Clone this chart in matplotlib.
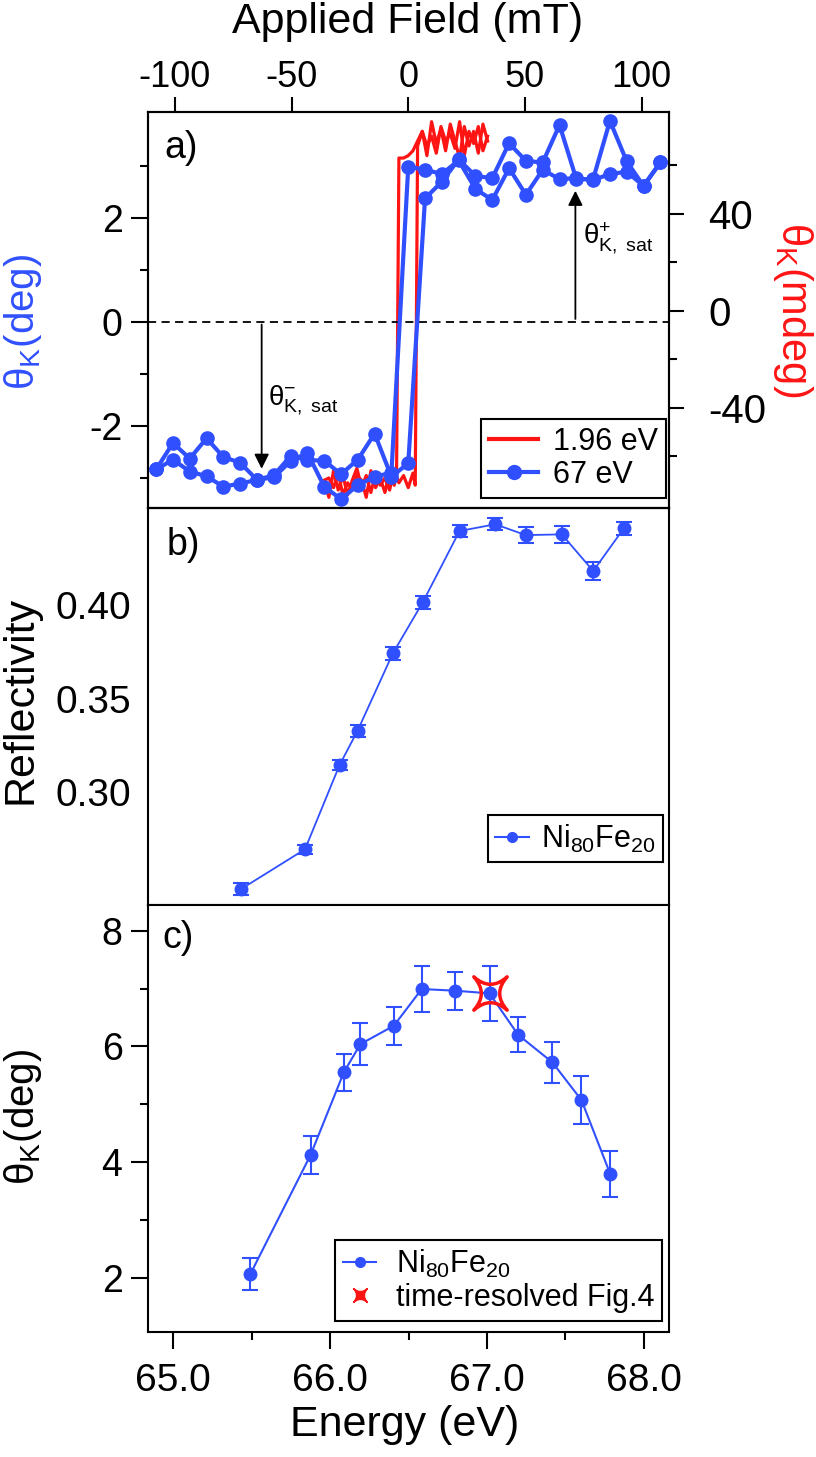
import matplotlib.pyplot as plt
from matplotlib.path import Path
from matplotlib.lines import Line2D
from matplotlib.ticker import FixedLocator

plt.rcParams['font.family'] = ['Liberation Sans', 'DejaVu Sans']
plt.rcParams['mathtext.fontset'] = 'custom'
plt.rcParams['mathtext.rm'] = 'Liberation Sans'
plt.rcParams['mathtext.it'] = 'Liberation Sans:italic'
plt.rcParams['mathtext.bf'] = 'Liberation Sans:bold'
plt.rcParams['axes.unicode_minus'] = False

BLUE = '#3050ff'
RED = '#ff1414'

# panel a: hysteresis loops, 67 eV (deg) and 1.96 eV (mdeg)
field_mT = [-108.0, -100.8, -93.6, -86.4, -79.2, -72.0, -64.8, -57.6, -50.4, -43.2,
            -36.0, -28.8, -21.6, -14.4, -7.2, 0.0, 7.2, 14.4, 21.6, 28.8,
            36.0, 43.2, 50.4, 57.6, 64.8, 72.0, 79.2, 86.4, 93.6, 100.8, 108.0]
kerr_up = [-2.84, -2.33, -2.63, -2.24, -2.60, -2.71, -3.04, -2.95, -2.58, -2.66,
           -2.67, -2.93, -2.65, -2.15, -2.98, -2.72, 2.37, 2.69, 3.12, 2.80,
           2.76, 3.43, 3.09, 3.06, 3.78, 2.74, 2.74, 3.86, 3.08, 2.61, 3.06]
kerr_down = [-2.84, -2.65, -2.88, -2.97, -3.17, -3.11, -3.04, -2.99, -2.68, -2.52,
             -3.17, -3.41, -3.14, -2.98, -2.90, 2.98, 2.92, 2.84, 3.10, 2.55,
             2.34, 2.95, 2.44, 2.92, 2.74, 2.76, 2.72, 2.84, 2.88, 2.61, 3.06]

red_up_field = [-36, -34, -32, -30, -28, -26, -24, -22, -20, -18, -16, -14, -12, -10,
                -8, -6, -4, -2, 0, 2, 3, 4, 6, 8, 10, 12, 14, 16, 18, 20, 22, 24,
                26, 28, 30, 32, 34]
red_up_mdeg = [-70, -77, -66, -74, -68, -76, -70, -65, -73, -68, -75, -67, -72, -69,
               -74, -66, -71, -68, -73, -67, -72, 68, 74, 64, 78, 69, 75, 66, 77, 70,
               63, 76, 68, 74, 65, 77, 70]
red_down_field = [34, 32, 30, 28, 26, 24, 22, 20, 18, 16, 14, 12, 10, 8, 6, 4, 2, 0,
                  -2, -4, -5, -6, -8, -10, -12, -14, -16, -18, -20, -22, -24, -26,
                  -28, -30, -32, -34, -36]
red_down_mdeg = [72, 66, 76, 69, 74, 64, 78, 67, 73, 70, 76, 65, 72, 68, 74, 70, 66, 64,
                 63, 63, -66, -72, -67, -75, -69, -73, -66, -77, -70, -68, -74, -71,
                 -76, -67, -73, -69, -70]

# panel b: reflectivity vs energy
energy_b = [65.43, 65.84, 66.06, 66.175, 66.40, 66.59, 66.825, 67.053, 67.247, 67.477, 67.677, 67.872]
refl = [0.248, 0.2694, 0.3144, 0.3328, 0.3742, 0.4014, 0.4396, 0.4432, 0.4374, 0.4378, 0.4182, 0.441]
refl_err = [0.0033, 0.0025, 0.0027, 0.0033, 0.0036, 0.0036, 0.003, 0.0033, 0.0043, 0.0045, 0.005, 0.0036]

# panel c: Kerr rotation vs energy
energy_c = [65.491, 65.875, 66.088, 66.193, 66.406, 66.584, 66.799, 67.016, 67.198, 67.417, 67.602, 67.786]
kerr_c = [2.064, 4.122, 5.557, 6.04, 6.357, 6.992, 6.963, 6.917, 6.202, 5.724, 5.073, 3.793]
kerr_c_err = [0.28, 0.33, 0.32, 0.36, 0.33, 0.39, 0.33, 0.47, 0.30, 0.355, 0.41, 0.40]
star_energy = [67.016]
star_kerr = [6.917]

W, H = 816, 1457
fig = plt.figure(figsize=(W / 100, H / 100), dpi=100)


def box(l, t, r, b):
    return [l / W, 1 - b / H, (r - l) / W, (b - t) / H]


ax_a = fig.add_axes(box(147.5, 112, 669, 508))
ax_b = fig.add_axes(box(147.5, 508, 669, 905))
ax_c = fig.add_axes(box(147.5, 905, 669, 1332))
ax_r = ax_a.twinx()
ax_a.set_zorder(ax_r.get_zorder() + 1)
ax_a.patch.set_visible(False)

for ax in (ax_a, ax_b, ax_c, ax_r):
    for s in ax.spines.values():
        s.set_linewidth(1.5)

# ---- panel a
ax_r.plot(red_up_field, red_up_mdeg, color=RED, lw=2.3)
ax_r.plot(red_down_field, red_down_mdeg, color=RED, lw=2.3)
ax_a.plot(field_mT, kerr_up, '-o', color=BLUE, lw=3, ms=9.5)
ax_a.plot(field_mT, kerr_down, '-o', color=BLUE, lw=3, ms=9.5)
ax_a.axhline(0, color='k', lw=1.3, ls=(0, (4.5, 3)), zorder=1)

ax_a.set_xlim(-111.7, 111.7)
ax_a.set_ylim(-3.58, 4.03)
ax_r.set_ylim(-81.4, 82.0)
ax_a.xaxis.tick_top()
ax_a.set_xticks([-100, -50, 0, 50, 100])
ax_a.tick_params(axis='x', which='both', top=True, bottom=False, labeltop=True,
                 labelbottom=False, length=11, width=1.5, labelsize=26, pad=1)
ax_a.set_yticks([-2, 0, 2])
ax_a.yaxis.set_minor_locator(FixedLocator([-3, -1, 1, 3]))
ax_a.tick_params(axis='y', which='major', length=12, width=1.5, labelsize=27, pad=6)
ax_a.tick_params(axis='y', which='minor', length=6, width=1.5)
ax_r.set_yticks([-40, 0, 40])
ax_r.yaxis.set_minor_locator(FixedLocator([-60, -20, 20, 60]))
ax_r.tick_params(axis='y', which='major', length=11, width=1.5, labelsize=29, pad=17)
ax_r.tick_params(axis='y', which='minor', length=6, width=1.5)

ax_a.annotate('', xy=(-62.8, -2.88), xytext=(-62.8, 0),
              arrowprops=dict(arrowstyle='-|>', color='k', lw=1.3, mutation_scale=22))
ax_a.annotate('', xy=(71.6, 2.57), xytext=(71.6, 0),
              arrowprops=dict(arrowstyle='-|>', color='k', lw=1.3, mutation_scale=22))
ax_a.text(-60, -1.5, 'θ$^{-}_{\\mathrm{K,\\ sat}}$', fontsize=20, va='center', ha='left')
ax_a.text(75, 1.6, 'θ$^{+}_{\\mathrm{K,\\ sat}}$', fontsize=20, va='center', ha='left')

leg = ax_a.legend([Line2D([], [], color=RED, lw=3),
                   Line2D([], [], color=BLUE, lw=3, marker='o', ms=10)],
                  ['1.96 eV', '67 eV'], loc='lower right', bbox_to_anchor=(0.994, 0.026),
                  borderaxespad=0, fancybox=False, edgecolor='k', framealpha=1,
                  fontsize=22, handlelength=1.6, handletextpad=0.5, borderpad=0.25,
                  labelspacing=0.1)
leg.get_frame().set_linewidth(1.5)
ax_a.text(0.032, 0.955, 'a)', transform=ax_a.transAxes, fontsize=27, va='top')

# ---- panel b
ax_b.errorbar(energy_b, refl, yerr=refl_err, fmt='-o', color=BLUE, lw=1.3, ms=9,
              capsize=6, capthick=1.5, elinewidth=1.5)
ax_b.set_xlim(64.836, 68.16)
ax_b.set_ylim(0.2396, 0.4519)
ax_b.set_xticks([])
ax_b.set_yticks([0.30, 0.35, 0.40])
ax_b.set_yticklabels(['0.30', '0.35', '0.40'])
ax_b.tick_params(axis='y', length=0, labelsize=28, pad=12)
leg = ax_b.legend([Line2D([], [], color=BLUE, lw=1.5, marker='o', ms=7)],
                  ['Ni$_{80}$Fe$_{20}$'], loc='lower right', bbox_to_anchor=(0.989, 0.1076),
                  borderaxespad=0, fancybox=False, edgecolor='k', framealpha=1,
                  fontsize=22, handlelength=1.1, handletextpad=0.4, borderpad=0.25)
leg.get_frame().set_linewidth(1.5)
ax_b.text(0.037, 0.952, 'b)', transform=ax_b.transAxes, fontsize=27, va='top')

# ---- panel c
star = Path([(-1, 1), (0, 0.1), (1, 1), (0.1, 0), (1, -1), (0, -0.1), (-1, -1),
             (-0.1, 0), (-1, 1), (-1, 1)],
            [Path.MOVETO, Path.CURVE3, Path.CURVE3, Path.CURVE3, Path.CURVE3,
             Path.CURVE3, Path.CURVE3, Path.CURVE3, Path.CURVE3, Path.CLOSEPOLY])
ax_c.errorbar(energy_c, kerr_c, yerr=kerr_c_err, fmt='-o', color=BLUE, lw=1.5, ms=9,
              capsize=6, capthick=1.5, elinewidth=1.5)
ax_c.plot(star_energy, star_kerr, linestyle='none', marker=star, ms=24, mfc='none',
          mec=RED, mew=2.5, zorder=5)
ax_c.set_xlim(64.836, 68.16)
ax_c.set_ylim(1.066, 8.444)
ax_c.set_xticks([65, 66, 67, 68])
ax_c.set_xticklabels(['65.0', '66.0', '67.0', '68.0'])
ax_c.xaxis.set_minor_locator(FixedLocator([65.5, 66.5, 67.5]))
ax_c.set_yticks([2, 4, 6, 8])
ax_c.yaxis.set_minor_locator(FixedLocator([3, 5, 7]))
ax_c.tick_params(axis='x', which='major', length=12, width=1.5, labelsize=28, pad=10)
ax_c.tick_params(axis='x', which='minor', length=6, width=1.5)
ax_c.tick_params(axis='y', which='major', length=12, width=1.5, labelsize=27, pad=6)
ax_c.tick_params(axis='y', which='minor', length=6, width=1.5)
leg = ax_c.legend([Line2D([], [], color=BLUE, lw=1.5, marker='o', ms=7),
                   Line2D([], [], linestyle='none', marker=star, ms=10, mfc=RED, mec=RED)],
                  ['Ni$_{80}$Fe$_{20}$', 'time-resolved Fig.4'], loc='lower right',
                  bbox_to_anchor=(0.9875, 0.0265), borderaxespad=0, fancybox=False,
                  edgecolor='k', framealpha=1, fontsize=22, handlelength=1.1,
                  handletextpad=0.65, borderpad=0.25, labelspacing=0.1)
leg.get_frame().set_linewidth(1.5)
ax_c.text(0.028, 0.965, 'c)', transform=ax_c.transAxes, fontsize=27, va='top')

# axis titles
fig.text(408 / W, 1 - 22 / H, 'Applied Field (mT)', fontsize=31, ha='center', va='center')
fig.text(405 / W, 1 - 1425 / H, 'Energy (eV)', fontsize=31, ha='center', va='center')
fig.text(23 / W, 1 - 322 / H, 'θ$_{\\mathrm{K}}$(deg)', fontsize=29, rotation=90,
         color=BLUE, ha='center', va='center')
fig.text(793 / W, 1 - 310 / H, 'θ$_{\\mathrm{K}}$(mdeg)', fontsize=30, rotation=270,
         color=RED, ha='center', va='center')
fig.text(21 / W, 1 - 700 / H, 'Reflectivity', fontsize=31, rotation=90,
         ha='center', va='center')
fig.text(23 / W, 1 - 1117 / H, 'θ$_{\\mathrm{K}}$(deg)', fontsize=29, rotation=90,
         ha='center', va='center')

fig.savefig('out.png', dpi=100)
